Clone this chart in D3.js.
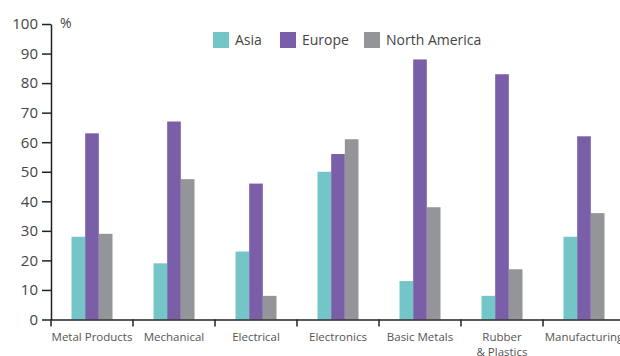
<!DOCTYPE html>
<html>
<head>
  <meta charset="utf-8">
  <style type="text/css">
    body { margin: 0; background: #fff; }
    text { font-family: "Open Sans", sans-serif; }
  </style>
  <script src="https://d3js.org/d3.v7.min.js"></script>
</head>
<body>
  <div id="chart"></div>
  <script type="text/javascript">
    "use strict";

    // data
    var categories = ["Metal Products", "Mechanical", "Electrical", "Electronics",
                      "Basic Metals", "Rubber\n& Plastics", "Manufacturing"];
    var series = ["Asia", "Europe", "North America"];
    var asia = [28, 19, 23, 50, 13, 8, 28];
    var europe = [63, 67, 46, 56, 88, 83, 62];
    var northAmerica = [29, 47.5, 8, 61, 38, 17, 36];
    var yTicks = [0, 10, 20, 30, 40, 50, 60, 70, 80, 90, 100];
    var colors = ["#74c5c7", "#7a5fa8", "#939598"];

    var values = [asia, europe, northAmerica];
    var width = 620, height = 356;
    var plotLeft = 51, plotRight = 625, plotTop = 24, plotBottom = 319.5;

    var svg = d3.select("#chart").append("svg")
      .attr("width", width)
      .attr("height", height);

    var x0 = d3.scaleBand().domain(categories).range([plotLeft, plotRight]);
    var bw = x0.bandwidth();
    var x1 = d3.scaleBand().domain(series).range([bw * 0.25, bw * 0.75]);
    var y = d3.scaleLinear().domain([0, 100]).range([plotBottom, plotTop]);

    // bars
    var groups = svg.append("g").selectAll("g")
      .data(categories)
      .join("g")
        .attr("transform", function(d) { return "translate(" + x0(d) + ",0)"; });

    groups.selectAll("rect")
      .data(function(d, i) {
        return series.map(function(s, j) { return { s: s, v: values[j][i], c: colors[j] }; });
      })
      .join("rect")
        .attr("x", function(d) { return x1(d.s); })
        .attr("width", x1.bandwidth())
        .attr("y", function(d) { return y(d.v); })
        .attr("height", function(d) { return y(0) - y(d.v); })
        .attr("fill", function(d) { return d.c; });

    // y axis
    var yAxis = svg.append("g")
      .attr("transform", "translate(" + plotLeft + ",0)")
      .call(d3.axisLeft(y).tickValues(yTicks).tickSize(9).tickPadding(4).tickSizeOuter(0));
    yAxis.select(".domain").attr("stroke", "#222").attr("stroke-width", 1.5);
    yAxis.selectAll(".tick line").attr("stroke", "#222").attr("stroke-width", 1.5);
    yAxis.selectAll(".tick text")
      .attr("fill", "#444")
      .style("font-size", "15px");

    // x axis
    var xAxis = svg.append("g")
      .attr("transform", "translate(0," + plotBottom + ")")
      .call(d3.axisBottom(x0).tickSize(0).tickPadding(0).tickFormat(""));
    xAxis.select(".domain").attr("stroke", "#222").attr("stroke-width", 1.5);

    // category separators
    var bounds = categories.map(function(c) { return x0(c); });
    xAxis.selectAll("line.sep")
      .data(bounds)
      .join("line")
        .attr("class", "sep")
        .attr("x1", function(d) { return d; })
        .attr("x2", function(d) { return d; })
        .attr("y1", 0)
        .attr("y2", 7)
        .attr("stroke", "#222")
        .attr("stroke-width", 1.5);

    // category labels
    xAxis.selectAll("text.cat")
      .data(categories)
      .join("text")
        .attr("class", "cat")
        .attr("text-anchor", "middle")
        .attr("fill", "#555")
        .style("font-size", "11.5px")
        .attr("transform", function(d) { return "translate(" + (x0(d) + bw / 2) + ",21)"; })
        .each(function(d) {
          var lines = d.split("\n");
          d3.select(this).selectAll("tspan")
            .data(lines)
            .join("tspan")
              .attr("x", 0)
              .attr("dy", function(l, i) { return i ? 15 : 0; })
              .text(function(l) { return l; });
        });

    // unit label
    svg.append("text")
      .attr("x", 60)
      .attr("y", 28)
      .attr("fill", "#444")
      .style("font-size", "14px")
      .text("%");

    // legend
    var legendX = [213, 280, 364];
    var legend = svg.append("g").selectAll("g")
      .data(series)
      .join("g")
        .attr("transform", function(d, i) { return "translate(" + legendX[i] + ",32)"; });
    legend.append("rect")
      .attr("width", 16)
      .attr("height", 16)
      .attr("fill", function(d, i) { return colors[i]; });
    legend.append("text")
      .attr("x", 22)
      .attr("y", 13)
      .attr("fill", "#444")
      .style("font-size", "14px")
      .text(function(d) { return d; });
  </script>
</body>
</html>
